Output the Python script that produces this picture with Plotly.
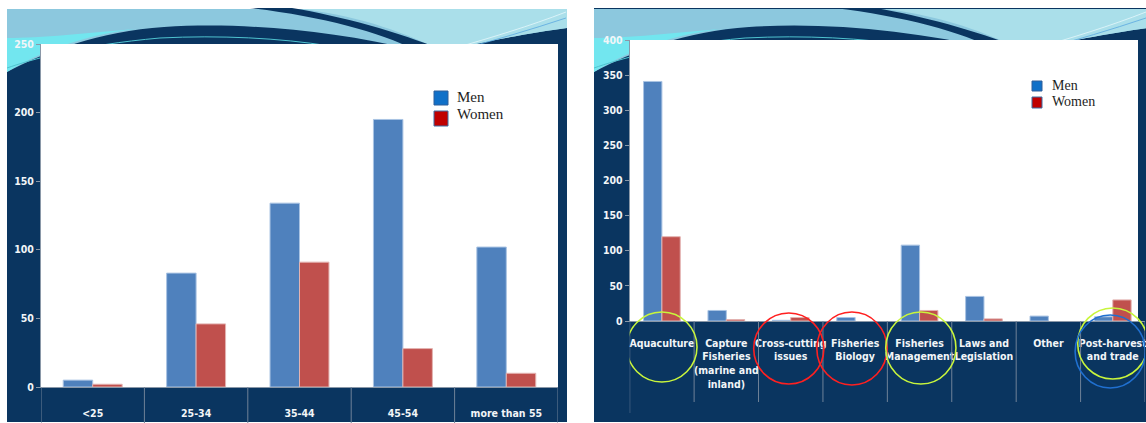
import plotly.graph_objects as go

W, H = 1146, 423

# ---------------- data ----------------
age_groups = ["<25", "25-34", "35-44", "45-54", "more than 55"]
age_men = [5, 83, 134, 195, 102]
age_women = [2, 46, 91, 28, 10]
age_yticks = [0, 50, 100, 150, 200, 250]

fields = ["Aquaculture", "Capture Fisheries (marine and inland)", "Cross-cutting issues",
          "Fisheries Biology", "Fisheries Management", "Laws and Legislation", "Other",
          "Post-harvest and trade"]
field_labels = ["Aquaculture", "Capture<br>Fisheries<br>(marine and<br>inland)", "Cross-cutting<br>issues",
                "Fisheries<br>Biology", "Fisheries<br>Management", "Laws and<br>Legislation", "Other",
                "Post-harvest<br>and trade"]
field_men = [341, 15, 1, 5, 108, 35, 7, 6]
field_women = [120, 2, 5, 0, 15, 3, 0, 30]
field_yticks = [0, 50, 100, 150, 200, 250, 300, 350, 400]

series_names = ["Men", "Women"]

# circled categories: (category, colour)
circled = [("Aquaculture", "#c8f53c"), ("Cross-cutting issues", "#ff2020"),
           ("Fisheries Biology", "#ff2020"), ("Fisheries Management", "#c8f53c"),
           ("Post-harvest and trade", "#c8f53c"), ("Post-harvest and trade", "#2070d0")]

# ---------------- styles ----------------
MEN_BAR, WOMEN_BAR = "#4f81bd", "#c0504d"
MEN_KEY, WOMEN_KEY = "#1070c8", "#c00000"
NAVY = "#0a3560"
AXIS_GREY = "#8a98a8"
FAMILY = "'Liberation Sans Narrow', 'DejaVu Sans Condensed', 'Roboto Condensed', Lato, sans-serif"
YTICK_FONT = dict(family=FAMILY, size=10.5, color="#f2f5f8", weight="bold")
XTICK_FONT = dict(family=FAMILY, size=10.5, color="#f2f5f8", weight="bold")


def fx(x):
    return x / W


def fy(y):
    return 1 - y / H


def mk_path(cmds, tx):
    out = []
    for c in cmds:
        if c[0] == "Z":
            out.append("Z")
            continue
        nums = c[1:]
        pts = []
        for i in range(0, len(nums), 2):
            X, Y = tx(nums[i], nums[i + 1])
            pts.append(f"{fx(X):.5f},{fy(Y):.5f}")
        out.append(c[0] + " " + " ".join(pts))
    return " ".join(out)


shapes = []
annotations = []


def slide(x0, x1, y0, s, plot_box):
    tx = lambda x, y: (x0 + (x - 7) * s, y)
    # slide body
    shapes.append(dict(type="rect", xref="paper", yref="paper", x0=fx(x0), x1=fx(x1),
                       y0=fy(422), y1=fy(y0), fillcolor=NAVY, line_width=0, layer="below"))
    band = [("M", 7, 9), ("L", 567, 9), ("L", 567, 28), ("C", 530, 33, 480, 42, 452, 50),
            ("L", 415, 50), ("C", 330, 30, 240, 22, 164, 27), ("C", 100, 31, 45, 52, 7, 72), ("Z",)]
    shapes.append(dict(type="path", xref="paper", yref="paper", path=mk_path(band, tx),
                       fillcolor="#8cc8de", line_width=0, layer="below"))
    pale = [("M", 300, 9), ("L", 567, 9), ("L", 567, 28), ("C", 530, 33, 480, 42, 452, 50),
            ("L", 440, 50), ("C", 400, 30, 350, 14, 300, 9), ("Z",)]
    shapes.append(dict(type="path", xref="paper", yref="paper", path=mk_path(pale, tx),
                       fillcolor="#aadfea", line_width=0, layer="below"))
    cyan = [("M", 7, 38), ("C", 40, 38, 90, 33, 135, 29), ("C", 80, 36, 40, 52, 7, 72), ("Z",)]
    shapes.append(dict(type="path", xref="paper", yref="paper", path=mk_path(cyan, tx),
                       fillcolor="#72e6ef", line_width=0, layer="below"))
    cres = [("M", 250, 8), ("L", 292, 8), ("C", 340, 16, 400, 32, 442, 50),
            ("L", 415, 50), ("C", 380, 32, 320, 16, 250, 8), ("Z",)]
    shapes.append(dict(type="path", xref="paper", yref="paper", path=mk_path(cres, tx),
                       fillcolor=NAVY, line_width=0, layer="below"))
    thin1 = [("M", 7, 68), ("C", 30, 60, 80, 45, 160, 38), ("C", 220, 35, 280, 38, 330, 46)]
    shapes.append(dict(type="path", xref="paper", yref="paper", path=mk_path(thin1, tx),
                       line=dict(color="#4fc3cf", width=1), layer="below"))
    thin2 = [("M", 566, 12), ("C", 530, 26, 490, 38, 455, 48)]
    shapes.append(dict(type="path", xref="paper", yref="paper", path=mk_path(thin2, tx),
                       line=dict(color="#e6f7fb", width=0.8), layer="below"))
    thin3 = [("M", 566, 18), ("C", 530, 30, 495, 40, 462, 49)]
    shapes.append(dict(type="path", xref="paper", yref="paper", path=mk_path(thin3, tx),
                       line=dict(color="#5aa8e0", width=0.8), layer="below"))
    # white plot area
    px0, py0, px1, py1 = plot_box
    shapes.append(dict(type="rect", xref="paper", yref="paper", x0=fx(px0), x1=fx(px1),
                       y0=fy(py1), y1=fy(py0), fillcolor="white", line_width=0, layer="below"))


slide(7, 567, 9, 1.0, (41, 44, 558, 387))
slide(594, 1147, 8, 553 / 560, (629.7, 40, 1138, 321))

# category separators in the axis bands
for i in range(len(age_groups) + 1):
    shapes.append(dict(type="line", xref="x", yref="paper", x0=i - 0.5, x1=i - 0.5,
                       y0=fy(387), y1=fy(423), line=dict(color="#6f8298", width=1)))
for i in range(len(fields) + 1):
    shapes.append(dict(type="line", xref="x2", yref="paper", x0=i - 0.5, x1=i - 0.5,
                       y0=fy(321), y1=fy(413 if i == 0 else 402), line=dict(color="#6f8298", width=1)))

# circles around categories
circle_y = {0: (312, 382), 1: (313, 384), 2: (312, 385), 3: (312, 384), 4: (308, 379), 5: (315, 388)}
circle_dx = {0: 0.0, 1: -0.03, 2: -0.05, 3: 0.02, 4: 0.0, 5: -0.04}
for k, (cat, col) in enumerate(circled):
    idx = fields.index(cat)
    c = idx + circle_dx[k]
    yt, yb = circle_y[k]
    shapes.append(dict(type="circle", xref="x2", yref="paper", x0=c - 0.545, x1=c + 0.545,
                       y0=fy(yb), y1=fy(yt), line=dict(color=col, width=1.6), layer="above"))


# custom keys (legend)
def key(x, yt, yb, size_text, xt, ytxt_men, ytxt_wom, sq):
    shapes.append(dict(type="rect", xref="paper", yref="paper", x0=fx(x), x1=fx(x + sq),
                       y0=fy(yt + sq), y1=fy(yt), fillcolor=MEN_KEY,
                       line=dict(color="#2f5f9a", width=1)))
    shapes.append(dict(type="rect", xref="paper", yref="paper", x0=fx(x), x1=fx(x + sq),
                       y0=fy(yb + sq + 1), y1=fy(yb), fillcolor=WOMEN_KEY,
                       line=dict(color="#3a6ea5", width=1)))
    for name, yy in zip(series_names, (ytxt_men, ytxt_wom)):
        annotations.append(dict(xref="paper", yref="paper", x=fx(xt), y=fy(yy), text=name,
                                showarrow=False, xanchor="left", yanchor="middle",
                                font=dict(family="'Liberation Serif', 'DejaVu Serif', serif",
                                          size=size_text, color="#1e1e1e")))


key(434, 91, 111, 15, 455, 97, 114, 14)
key(1032, 81, 97, 14, 1050, 86, 101, 10)


def bar_line(vals, col):
    return dict(color=col, width=[0 if v == 0 else 1 for v in vals])


fig = go.Figure()
for name, vals, col, lc in [(series_names[0], age_men, MEN_BAR, "#a9c3e3"),
                            (series_names[1], age_women, WOMEN_BAR, "#e3b3b1")]:
    fig.add_trace(go.Bar(x=age_groups, y=vals, name=name, marker=dict(color=col, line=bar_line(vals, lc)),
                         xaxis="x", yaxis="y", showlegend=False))
for name, vals, col, lc in [(series_names[0], field_men, MEN_BAR, "#a9c3e3"),
                            (series_names[1], field_women, WOMEN_BAR, "#e3b3b1")]:
    fig.add_trace(go.Bar(x=fields, y=vals, name=name, marker=dict(color=col, line=bar_line(vals, lc)),
                         xaxis="x2", yaxis="y2", showlegend=False))

common_y = dict(showgrid=False, zeroline=False, showline=True, linecolor=AXIS_GREY, linewidth=1,
                ticks="outside", ticklen=4, tickcolor=AXIS_GREY, tickfont=YTICK_FONT, automargin=False)
common_x = dict(type="category", showgrid=False, zeroline=False, showline=True, linecolor=AXIS_GREY,
                linewidth=1, ticks="", tickfont=XTICK_FONT, tickangle=0, automargin=False)

fig.update_layout(
    width=W, height=H, margin=dict(l=0, r=0, t=0, b=0, pad=0),
    paper_bgcolor="white", plot_bgcolor="rgba(0,0,0,0)",
    barmode="group", bargap=0.43, bargroupgap=0.0,
    xaxis=dict(domain=[fx(41), fx(558)], anchor="y", range=[-0.5, len(age_groups) - 0.5],
               ticklabelstandoff=16, **common_x),
    yaxis=dict(domain=[fy(387), fy(44)], anchor="x", range=[0, 250], tickvals=age_yticks, **common_y),
    xaxis2=dict(domain=[fx(629.7), fx(1145)], anchor="y2", range=[-0.5, len(fields) - 0.5],
                tickvals=fields, ticktext=field_labels, ticklabelstandoff=12, **common_x),
    yaxis2=dict(domain=[fy(321), fy(40)], anchor="x2", range=[0, 400], tickvals=field_yticks, **common_y),
    shapes=shapes, annotations=annotations,
)

fig.write_html("out.html")
